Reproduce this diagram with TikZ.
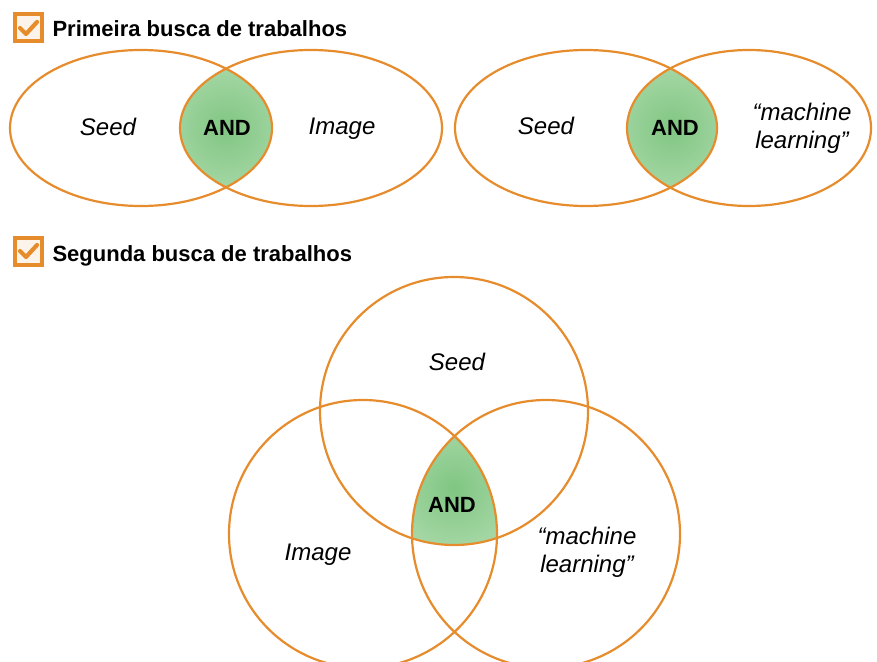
\documentclass[tikz,border=0pt]{standalone}
\usepackage{fontspec}
\setmainfont{Liberation Sans}
\definecolor{vennorange}{RGB}{230,140,45}
\definecolor{andgreen}{RGB}{128,198,130}
\definecolor{andpale}{RGB}{218,239,215}
\tikzset{
  venn/.style={draw=vennorange, line width=2.2},
  andfill/.style={inner color=andgreen, outer color=andpale},
  term/.style={font=\fontsize{24}{28}\selectfont\itshape, align=center},
  andlabel/.style={font=\fontsize{22}{26}\selectfont\bfseries},
  heading/.style={anchor=base west, font=\fontsize{22}{26}\selectfont\bfseries},
  checkbox/.style={draw=vennorange, line width=4pt, fill=vennorange!10, minimum size=27pt, inner sep=0pt},
  checkmark/.style={draw=vennorange, line width=4.2pt, line cap=round, line join=round}
}
\begin{document}
\begin{tikzpicture}[x=1pt,y=-1pt]
\clip (0,0) rectangle (877,661);
% headings
\node[checkbox] (cb1) at (28,28) {};
\draw[checkmark] (cb1.center) ++(-8,0) -- ++(6,6) -- ++(11,-12);
\node[heading] (head1) at (49,37) {Primeira busca de trabalhos};
\node[checkbox] (cb2) at (28,251) {};
\draw[checkmark] (cb2.center) ++(-8,0) -- ++(6,6) -- ++(11,-12);
\node[heading] (head2) at (49,261) {Segunda busca de trabalhos};
% first search: Seed AND Image
\begin{scope}
\clip (141,128) ellipse [x radius=131, y radius=78];
\clip (311,128) ellipse [x radius=131, y radius=78];
\shade[andfill] (226,128) circle (150);
\end{scope}
\draw[venn] (141,128) ellipse [x radius=131, y radius=78];
\draw[venn] (311,128) ellipse [x radius=131, y radius=78];
% first search: Seed AND "machine learning"
\begin{scope}
\clip (586,128) ellipse [x radius=131, y radius=78];
\clip (749,128) ellipse [x radius=122, y radius=78];
\shade[andfill] (672,128) circle (150);
\end{scope}
\draw[venn] (586,128) ellipse [x radius=131, y radius=78];
\draw[venn] (749,128) ellipse [x radius=122, y radius=78];
% second search: three sets
\begin{scope}
\clip (454,411) circle (134);
\clip (363,534) circle (134);
\clip (546,534) circle (134);
\shade[andfill] (454,488) circle (150);
\end{scope}
\draw[venn] (454,411) circle (134);
\draw[venn] (363,534) circle (134);
\draw[venn] (546,534) circle (134);
% labels
\node[term] (seed1) at (108,127) {Seed};
\node[andlabel] (and1) at (227,128) {AND};
\node[term] (image1) at (342,129) {Image};
\node[term] (seed2) at (546,126) {Seed};
\node[andlabel] (and2) at (675,128) {AND};
\node[term] (ml2) at (802,128) {“machine\\learning”};
\node[term] (seed3) at (457,362) {Seed};
\node[andlabel] (and3) at (452,505) {AND};
\node[term] (image3) at (318,555) {Image};
\node[term] (ml3) at (587,552) {“machine\\learning”};
\end{tikzpicture}
\end{document}
